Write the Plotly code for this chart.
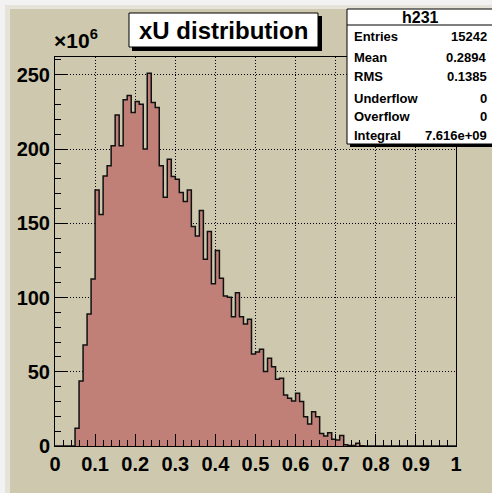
import numpy as np
import plotly.graph_objects as go

# ---------------- data ----------------
bin_low = 0.0
bin_width = 0.01
counts_1e6 = [
    0, 0, 0, 0, 0, 11.9, 43.8, 68.1, 88.9, 112.5,
    172.5, 155.9, 181.9, 188.7, 202.2, 223.0, 202.2, 233.2, 236.1, 224.6,
    232.0, 230.2, 200.0, 251.1, 231.4, 228.0, 188.7, 167.6, 193.2, 181.5,
    179.7, 170.7, 164.6, 172.5, 147.8, 141.5, 158.6, 125.8, 144.4, 109.2,
    131.6, 113.0, 101.1, 100.2, 87.1, 103.3, 87.1, 82.2, 85.4, 62.0,
    63.3, 65.2, 50.1, 59.1, 53.4, 44.9, 45.6, 34.4, 32.1, 30.3,
    35.5, 29.9, 19.7, 14.8, 23.1, 19.7, 8.5, 6.7, 9.0, 4.5,
    4.0, 7.0, 0.8, 0.3, 0.3, 1.8, 0.2, 0, 0, 0,
    0, 0, 0, 0, 0, 0, 0, 0, 0, 0,
    0, 0, 0, 0, 0, 0, 0, 0, 0, 0,
]
x_tick_vals = [0, 0.1, 0.2, 0.3, 0.4, 0.5, 0.6, 0.7, 0.8, 0.9, 1.0]
x_tick_text = ["0", "0.1", "0.2", "0.3", "0.4", "0.5", "0.6", "0.7", "0.8", "0.9", "1"]
y_tick_vals = [0, 50, 100, 150, 200, 250]
y_tick_text = ["0", "50", "100", "150", "200", "250"]
title_text = "xU distribution"
hist_name = "h231"
stats_labels = ["Entries", "Mean", "RMS", "Underflow", "Overflow", "Integral"]
stats_values = ["15242", "0.2894", "0.1385", "0", "0", "7.616e+09"]

# ---------------- geometry ----------------
W, H = 492, 493
L, R, T, B = 55, 36, 57, 47
PW = W - L - R
PH = H - T - B


def px(x):
    return (x - L) / PW


def py(y):
    return (H - B - y) / PH


TAN = "#cdc8ae"
FILL = "#c08078"
FONT = "Liberation Sans, Arial, sans-serif"

edges = bin_low + bin_width * np.arange(len(counts_1e6) + 1)
yvals = list(counts_1e6) + [counts_1e6[-1]]

fig = go.Figure()
fig.add_trace(go.Scatter(
    x=edges, y=yvals, mode="lines",
    line=dict(shape="hv", color="#111111", width=1.5),
    fill="tozeroy", fillcolor=FILL, hoverinfo="skip", showlegend=False,
))

shapes = []
# canvas bevel border (left and top)
shapes.append(dict(type="rect", xref="paper", yref="paper", x0=px(0), x1=px(10), y0=py(H + 5), y1=py(-5),
                   fillcolor="#e6e4da", line=dict(width=0), layer="above"))
shapes.append(dict(type="rect", xref="paper", yref="paper", x0=px(0), x1=px(W + 5), y0=py(9), y1=py(-5),
                   fillcolor="#e6e4da", line=dict(width=0), layer="above"))
shapes.append(dict(type="rect", xref="paper", yref="paper", x0=px(0), x1=px(5), y0=py(H + 5), y1=py(-5),
                   fillcolor="#f2f2f2", line=dict(width=0), layer="above"))
shapes.append(dict(type="rect", xref="paper", yref="paper", x0=px(0), x1=px(W + 5), y0=py(5), y1=py(-5),
                   fillcolor="#f2f2f2", line=dict(width=0), layer="above"))
# title box with shadow
shapes.append(dict(type="rect", xref="paper", yref="paper", x0=px(132), x1=px(322), y0=py(51), y1=py(16),
                   fillcolor="#000000", line=dict(width=0), layer="above"))
shapes.append(dict(type="rect", xref="paper", yref="paper", x0=px(129), x1=px(318), y0=py(47), y1=py(13),
                   fillcolor="#ffffff", line=dict(width=1, color="#000000"), layer="above"))
# stats box with shadow
shapes.append(dict(type="rect", xref="paper", yref="paper", x0=px(350), x1=px(W + 10), y0=py(147), y1=py(12),
                   fillcolor="#000000", line=dict(width=0), layer="above"))
shapes.append(dict(type="rect", xref="paper", yref="paper", x0=px(347), x1=px(W + 10), y0=py(144), y1=py(9),
                   fillcolor="#ffffff", line=dict(width=1, color="#000000"), layer="above"))
shapes.append(dict(type="line", xref="paper", yref="paper", x0=px(347), x1=px(W + 10), y0=py(25), y1=py(25),
                   line=dict(width=1, color="#000000"), layer="above"))

annotations = []
annotations.append(dict(xref="paper", yref="paper", x=px(223.5), y=py(30), text=title_text, showarrow=False,
                        xanchor="center", yanchor="middle",
                        font=dict(family=FONT, size=24, color="#000000", weight="bold")))
annotations.append(dict(xref="paper", yref="paper", x=px(52), y=py(54), text="×10<sup>6</sup>", showarrow=False,
                        xanchor="left", yanchor="bottom",
                        font=dict(family=FONT, size=21, color="#000000", weight="bold")))
annotations.append(dict(xref="paper", yref="paper", x=px(420), y=py(17), text=hist_name, showarrow=False,
                        xanchor="center", yanchor="middle",
                        font=dict(family=FONT, size=16, color="#000000", weight="bold")))
row_y = [37, 57, 77, 98, 117, 135]
for lab, val, ry in zip(stats_labels, stats_values, row_y):
    annotations.append(dict(xref="paper", yref="paper", x=px(352), y=py(ry), text=lab, showarrow=False,
                            xanchor="left", yanchor="middle",
                            font=dict(family=FONT, size=13, color="#000000", weight="bold")))
    annotations.append(dict(xref="paper", yref="paper", x=px(489), y=py(ry), text=val, showarrow=False,
                            xanchor="right", yanchor="middle",
                            font=dict(family=FONT, size=13, color="#000000", weight="bold")))

axis_common = dict(
    showline=True, linecolor="#000000", linewidth=1, mirror=True,
    showgrid=True, gridcolor="#000000", gridwidth=1, griddash="1px,2px",
    zeroline=False, ticks="inside", ticklen=12, tickcolor="#000000", tickwidth=1,
    tickfont=dict(family=FONT, size=20, color="#000000", weight="bold"),
)

fig.update_layout(
    width=W, height=H, autosize=False,
    margin=dict(l=L, r=R, t=T, b=B, pad=0),
    paper_bgcolor=TAN, plot_bgcolor=TAN,
    shapes=shapes, annotations=annotations, showlegend=False,
    xaxis=dict(range=[0, 1], tickmode="array", tickvals=x_tick_vals, ticktext=x_tick_text,
               minor=dict(dtick=0.02, tick0=0, ticks="inside", ticklen=6, tickcolor="#000000", showgrid=False),
               **axis_common),
    yaxis=dict(range=[0, 262], tickmode="array", tickvals=y_tick_vals, ticktext=y_tick_text,
               minor=dict(dtick=10, tick0=0, ticks="inside", ticklen=6, tickcolor="#000000", showgrid=False),
               **axis_common),
)

fig.write_html("out.html")
